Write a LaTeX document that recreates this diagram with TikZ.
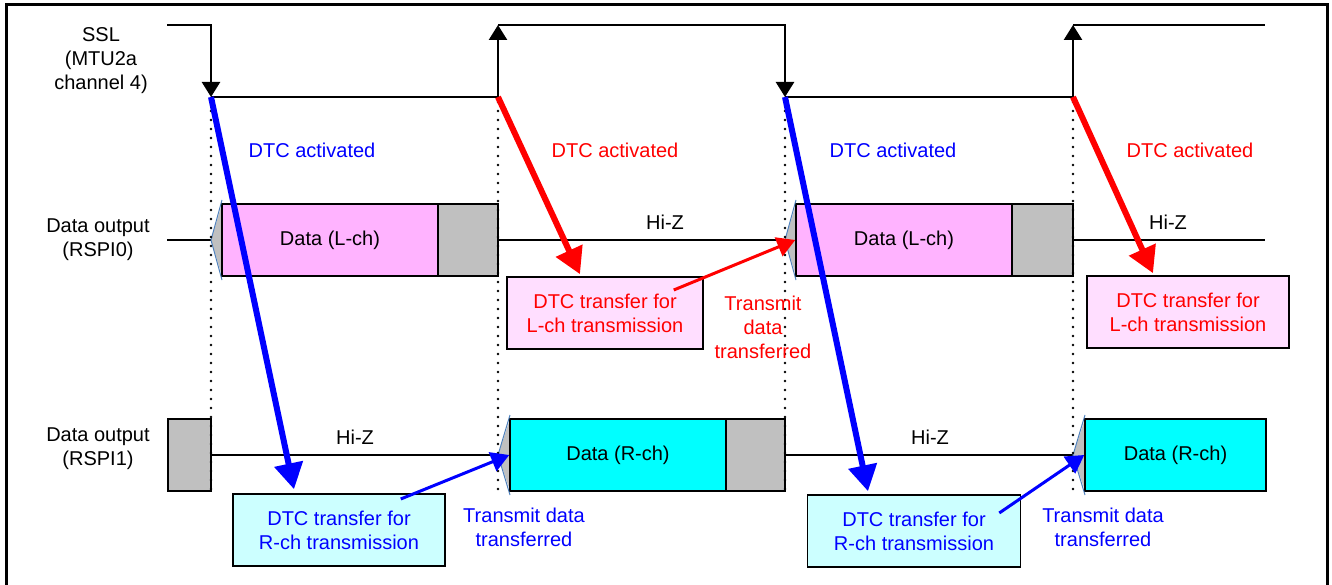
\documentclass[tikz,border=0pt]{standalone}
\usepackage{fontspec}
\setmainfont{Liberation Sans}
\usetikzlibrary{arrows.meta}
\definecolor{datapink}{RGB}{255,179,255}
\definecolor{dtcpink}{RGB}{255,222,255}
\definecolor{datacyan}{RGB}{0,255,255}
\definecolor{dtccyan}{RGB}{204,255,255}
\definecolor{padgray}{RGB}{192,192,192}
\definecolor{edgeblue}{RGB}{79,129,189}
\begin{document}
\begin{tikzpicture}[x=1pt,y=-1pt,
    every node/.style={font=\fontsize{20}{24}\selectfont,align=center,inner sep=0pt},
    wave/.style={line width=2.5pt},
    clock/.style={-{Triangle[width=18pt,length=15pt]}},
    bus/.style={line width=1.4pt},
    guide/.style={line width=2.6pt,line cap=round,dash pattern=on 0pt off 9pt},
    slot/.style={draw,line width=1.5pt,minimum height=72pt},
    datal/.style={slot,fill=datapink},
    datar/.style={slot,fill=datacyan},
    pad/.style={slot,fill=padgray},
    lead/.style={fill=padgray},
    leadedge/.style={draw=edgeblue,line width=1pt},
    dtcl/.style={draw,line width=1.5pt,fill=dtcpink,text=red,minimum width=196pt,minimum height=72pt},
    dtcr/.style={draw,line width=1.5pt,fill=dtccyan,text=blue,minimum width=212pt,minimum height=72pt},
    act/.style={line width=6pt,-{Triangle[width=28pt,length=26pt]}},
    xfer/.style={line width=3pt,-{Triangle[width=20pt,length=18pt]}}]
  \useasboundingbox (0,0) rectangle (1332,585);
  \draw[line width=3pt] (6,600) -- (6,5) -- (1327,5) -- (1327,600);

  \node (ssl) at (101,61) {SSL\\(MTU2a\\channel 4)};
  \node (out0) at (98,240) {Data output\\(RSPI0)};
  \node (out1) at (98,449) {Data output\\(RSPI1)};

  \coordinate (f1) at (211,97);
  \coordinate (h1) at (498,25);
  \coordinate (r1) at (498,97);
  \coordinate (f2) at (785,97);
  \coordinate (h2) at (1073,25);
  \coordinate (r2) at (1073,97);
  \draw[wave,clock] (167,25) -| (f1);
  \draw[wave] (f1) -- (r1);
  \draw[wave,clock] (r1) -- (h1);
  \draw[wave,clock] (h1) -| (f2);
  \draw[wave] (f2) -- (r2);
  \draw[wave,clock] (r2) -- (h2);
  \draw[wave] (h2) -- (1265,25);

  \draw[bus] (167,240) -- (211,240);
  \fill[lead] (211,240) -- (222,204) -- (222,276) -- cycle;
  \node[datal,minimum width=216pt] (dl1) at (330,240) {Data (L-ch)};
  \node[pad,minimum width=60pt] (pl1) at (468,240) {};
  \draw[leadedge] (222,200) -- (211,240) -- (222,280);
  \draw[bus] (pl1.east) -- (785,240);
  \node (hz1) at (665,222) {Hi-Z};
  \fill[lead] (785,240) -- (796,204) -- (796,276) -- cycle;
  \node[datal,minimum width=216pt] (dl2) at (904,240) {Data (L-ch)};
  \node[pad,minimum width=61pt] (pl2) at (1042.5,240) {};
  \draw[leadedge] (796,200) -- (785,240) -- (796,280);
  \draw[bus] (pl2.east) -- (1265,240);
  \node (hz2) at (1168,222) {Hi-Z};

  \node[pad,minimum width=43pt] (pr0) at (189.5,455) {};
  \draw[bus] (pr0.east) -- (498,455);
  \node (hz3) at (355,437) {Hi-Z};
  \fill[lead] (498,455) -- (510,419) -- (510,491) -- cycle;
  \node[datar,minimum width=216pt] (dr1) at (618,455) {Data (R-ch)};
  \node[pad,minimum width=59pt] (pr1) at (755.5,455) {};
  \draw[leadedge] (510,415) -- (498,455) -- (510,495);
  \draw[bus] (pr1.east) -- (1073,455);
  \node (hz4) at (930,437) {Hi-Z};
  \fill[lead] (1073,455) -- (1085,419) -- (1085,491) -- cycle;
  \node[datar,minimum width=181pt] (dr2) at (1175.5,455) {Data (R-ch)};
  \draw[leadedge] (1085,415) -- (1073,455) -- (1085,495);

  \foreach \x in {211,498,785,1073}
    \draw[guide] (\x,102) -- (\x,490);

  \node[dtcl] (tl1) at (605,313) {DTC transfer for\\L-ch transmission};
  \node[dtcl,minimum width=202pt] (tl2) at (1188,312) {DTC transfer for\\L-ch transmission};
  \node[dtcr] (tr1) at (339,530) {DTC transfer for\\R-ch transmission};
  \node[dtcr,minimum width=213pt] (tr2) at (914,531) {DTC transfer for\\R-ch transmission};

  \node[text=blue] (go1) at (312,150) {DTC activated};
  \node[text=red] (go2) at (615,150) {DTC activated};
  \node[text=blue] (go3) at (893,150) {DTC activated};
  \node[text=red] (go4) at (1190,150) {DTC activated};
  \node[text=red] (sent0) at (763,327) {Transmit\\data\\transferred};
  \node[text=blue] (sent1) at (524,527) {Transmit data\\transferred};
  \node[text=blue] (sent2) at (1103,527) {Transmit data\\transferred};

  \draw[act,blue] (f1) -- ([xshift=-45pt,yshift=4pt]tr1.north);
  \draw[act,red] (r1) -- ([xshift=-25pt,yshift=2pt]tl1.north);
  \draw[act,blue] (f2) -- ([xshift=-46pt,yshift=3pt]tr2.north);
  \draw[act,red] (r2) -- ([xshift=-35pt,yshift=2pt]tl2.north);
  \draw[xfer,red] ([xshift=-30pt,yshift=23pt]tl1.east) -- (dl2.west);
  \draw[xfer,blue] ([xshift=-45pt,yshift=31pt]tr1.east) -- (dr1.west);
  \draw[xfer,blue] ([xshift=-22pt,yshift=18pt]tr2.east) -- (dr2.west);
\end{tikzpicture}
\end{document}
